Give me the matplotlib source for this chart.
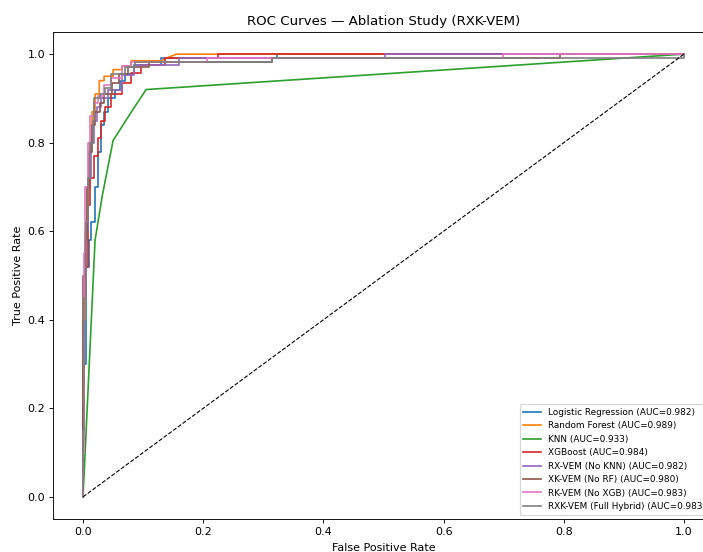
import matplotlib
matplotlib.use("Agg")
import matplotlib.pyplot as plt

# ROC corner points (fpr, tpr)
lr_fpr = [0, 0, 0.005, 0.005, 0.010, 0.010, 0.014, 0.014, 0.020, 0.020, 0.025, 0.025, 0.030, 0.030,
          0.035, 0.035, 0.042, 0.042, 0.053, 0.053, 0.062, 0.062, 0.070, 0.070, 0.085, 0.085,
          0.13, 0.13, 0.322, 0.322, 1]
lr_tpr = [0, 0.30, 0.30, 0.52, 0.52, 0.58, 0.58, 0.62, 0.62, 0.70, 0.70, 0.78, 0.78, 0.84,
          0.84, 0.87, 0.87, 0.90, 0.90, 0.92, 0.92, 0.94, 0.94, 0.955, 0.955, 0.975,
          0.975, 0.991, 0.991, 1, 1]

rf_fpr = [0, 0, 0.003, 0.003, 0.007, 0.007, 0.011, 0.011, 0.015, 0.015, 0.020, 0.020, 0.027, 0.027,
          0.035, 0.035, 0.050, 0.050, 0.065, 0.065, 0.080, 0.080, 0.13, 0.142, 0.156, 1]
rf_tpr = [0, 0.40, 0.40, 0.60, 0.60, 0.70, 0.70, 0.80, 0.80, 0.87, 0.87, 0.91, 0.91, 0.94,
          0.94, 0.95, 0.95, 0.965, 0.965, 0.973, 0.973, 0.985, 0.985, 0.993, 1, 1]

knn_fpr = [0, 0.020, 0.032, 0.050, 0.083, 0.105, 1]
knn_tpr = [0, 0.58, 0.68, 0.805, 0.875, 0.92, 1]

xgb_fpr = [0, 0, 0.002, 0.002, 0.004, 0.004, 0.008, 0.008, 0.012, 0.012, 0.018, 0.018, 0.025, 0.025,
           0.030, 0.030, 0.036, 0.036, 0.047, 0.047, 0.064, 0.064, 0.080, 0.080, 0.096, 0.096,
           0.137, 0.137, 0.225, 0.225, 1]
xgb_tpr = [0, 0.20, 0.20, 0.50, 0.50, 0.52, 0.52, 0.66, 0.66, 0.72, 0.72, 0.77, 0.77, 0.81,
           0.81, 0.85, 0.85, 0.88, 0.88, 0.91, 0.91, 0.935, 0.935, 0.957, 0.957, 0.975,
           0.975, 0.991, 0.991, 1, 1]

rx_fpr = [0, 0, 0.002, 0.002, 0.005, 0.005, 0.009, 0.009, 0.013, 0.013, 0.018, 0.018, 0.024, 0.024,
          0.030, 0.030, 0.042, 0.042, 0.064, 0.064, 0.085, 0.085, 0.16, 0.16, 0.502, 0.502, 1]
rx_tpr = [0, 0.12, 0.12, 0.45, 0.45, 0.60, 0.60, 0.72, 0.72, 0.80, 0.80, 0.85, 0.85, 0.88,
          0.88, 0.90, 0.90, 0.92, 0.92, 0.953, 0.953, 0.975, 0.975, 0.991, 0.991, 1, 1]

xk_fpr = [0, 0, 0.003, 0.003, 0.006, 0.006, 0.010, 0.010, 0.015, 0.015, 0.020, 0.020, 0.028, 0.028,
          0.035, 0.035, 0.048, 0.048, 0.060, 0.060, 0.075, 0.075, 0.11, 0.11, 0.315, 0.315,
          0.794, 0.794, 1]
xk_tpr = [0, 0.50, 0.50, 0.58, 0.58, 0.70, 0.70, 0.78, 0.78, 0.84, 0.84, 0.87, 0.87, 0.89,
          0.89, 0.91, 0.91, 0.935, 0.935, 0.955, 0.955, 0.97, 0.97, 0.982, 0.982, 0.991,
          0.991, 1, 1]

rk_fpr = [0, 0, 0.002, 0.002, 0.004, 0.004, 0.008, 0.008, 0.012, 0.012, 0.018, 0.018, 0.025, 0.025,
          0.035, 0.035, 0.047, 0.047, 0.064, 0.064, 0.080, 0.080, 0.206, 0.206, 0.699, 0.699, 1]
rk_tpr = [0, 0.10, 0.10, 0.55, 0.55, 0.70, 0.70, 0.80, 0.80, 0.86, 0.86, 0.89, 0.89, 0.905,
          0.905, 0.93, 0.93, 0.946, 0.946, 0.973, 0.973, 0.982, 0.982, 0.991, 0.991, 1, 1]

rxk_fpr = [0, 0, 0.002, 0.002, 0.005, 0.005, 0.008, 0.008, 0.012, 0.012, 0.016, 0.016, 0.019, 0.019,
           0.028, 0.028, 0.037, 0.037, 0.047, 0.047, 0.070, 0.070, 0.087, 0.087, 0.315, 0.315,
           1, 1]
rxk_tpr = [0, 0.15, 0.15, 0.45, 0.45, 0.62, 0.62, 0.72, 0.72, 0.80, 0.80, 0.85, 0.85, 0.90,
           0.90, 0.91, 0.91, 0.923, 0.923, 0.955, 0.955, 0.97, 0.97, 0.982, 0.982, 0.991,
           0.991, 1]

labels = ["Logistic Regression", "Random Forest", "KNN", "XGBoost",
          "RX-VEM (No KNN)", "XK-VEM (No RF)", "RK-VEM (No XGB)", "RXK-VEM (Full Hybrid)"]
aucs = [0.982, 0.989, 0.933, 0.984, 0.982, 0.980, 0.983, 0.983]

curves = [(lr_fpr, lr_tpr), (rf_fpr, rf_tpr), (knn_fpr, knn_tpr), (xgb_fpr, xgb_tpr),
          (rx_fpr, rx_tpr), (xk_fpr, xk_tpr), (rk_fpr, rk_tpr), (rxk_fpr, rxk_tpr)]

# the reference was rendered at a lower dpi, so everything is a bit smaller
fig = plt.figure(figsize=(703 / 80, 552 / 80), dpi=80)
ax = fig.add_axes([53 / 703, 33 / 552, 661 / 703, 487 / 552])

for (fpr, tpr), name, auc in zip(curves, labels, aucs):
    ax.plot(fpr, tpr, label="{} (AUC={:.3f})".format(name, auc))

ax.plot([0, 1], [0, 1], "k--", linewidth=1)

ax.set_title("ROC Curves — Ablation Study (RXK-VEM)")
ax.set_xlabel("False Positive Rate", labelpad=6)
ax.set_ylabel("True Positive Rate")
ax.legend(loc="lower right", fontsize=8)

fig.savefig("out.png", dpi=80)
